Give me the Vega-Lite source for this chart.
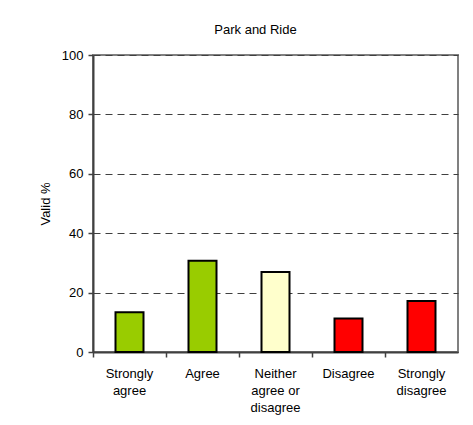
{
  "$schema": "https://vega.github.io/schema/vega-lite/v6.json",
  "width": 365,
  "height": 297,
  "autosize": {"type": "none"},
  "padding": {"left": 93, "top": 55, "right": 15, "bottom": 73},
  "background": "white",
  "title": {
    "text": "Park and Ride",
    "font": "Liberation Sans",
    "fontSize": 13,
    "fontWeight": "normal",
    "color": "black",
    "anchor": "middle",
    "dx": -20,
    "offset": 12
  },
  "config": {
    "view": {"stroke": "#808080", "strokeWidth": 2},
    "font": "Liberation Sans"
  },
  "data": {
    "values": [
      {"response": "Strongly agree", "pct": 13.4, "group": "agree"},
      {"response": "Agree", "pct": 30.7, "group": "agree"},
      {"response": "Neither agree or disagree", "pct": 26.9, "group": "neither"},
      {"response": "Disagree", "pct": 11.3, "group": "disagree"},
      {"response": "Strongly disagree", "pct": 17.2, "group": "disagree"}
    ]
  },
  "mark": {"type": "bar", "size": 28, "stroke": "black", "strokeWidth": 2},
  "encoding": {
    "x": {
      "field": "response",
      "type": "nominal",
      "sort": null,
      "scale": {"paddingInner": 0, "paddingOuter": 0},
      "axis": {
        "title": null,
        "labelAngle": 0,
        "labelFontSize": 13,
        "labelColor": "black",
        "labelLineHeight": 17,
        "labelPadding": 10,
        "labelBaseline": "top",
        "bandPosition": 0,
        "ticks": true,
        "tickSize": 5,
        "tickColor": "#404040",
        "tickWidth": 1.5,
        "domainColor": "#404040",
        "domainWidth": 2,
        "labelExpr": "datum.value == 'Strongly agree' ? ['Strongly','agree'] : datum.value == 'Neither agree or disagree' ? ['Neither','agree or','disagree'] : datum.value == 'Strongly disagree' ? ['Strongly','disagree'] : datum.value"
      }
    },
    "y": {
      "field": "pct",
      "type": "quantitative",
      "scale": {"domain": [0, 100], "nice": false},
      "axis": {
        "title": "Valid %",
        "titleFontSize": 13,
        "titleFontWeight": "normal",
        "titleColor": "black",
        "titlePadding": 9,
        "values": [0, 20, 40, 60, 80, 100],
        "labelFontSize": 13,
        "labelColor": "black",
        "labelPadding": 5,
        "tickSize": 5,
        "tickColor": "#404040",
        "tickWidth": 1.5,
        "domainColor": "#404040",
        "domainWidth": 2,
        "grid": true,
        "gridColor": "#404040",
        "gridDash": [7, 5],
        "gridWidth": 1
      }
    },
    "color": {
      "field": "group",
      "type": "nominal",
      "scale": {"domain": ["agree", "neither", "disagree"], "range": ["#99CC00", "#FFFFCC", "#FF0000"]},
      "legend": null
    }
  }
}
